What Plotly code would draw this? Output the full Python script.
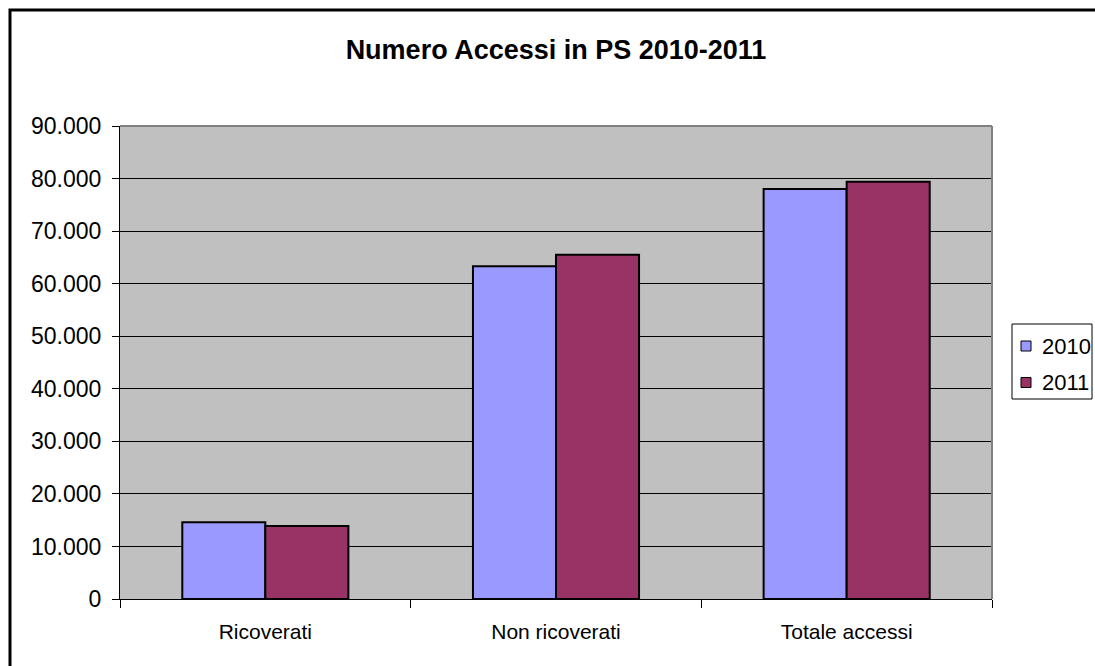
import plotly.graph_objects as go

categories = ["Ricoverati", "Non ricoverati", "Totale accessi"]
years = ["2010", "2011"]
accessi_2010 = [14600, 63300, 78000]
accessi_2011 = [13900, 65500, 79400]
y_ticks = [0, 10000, 20000, 30000, 40000, 50000, 60000, 70000, 80000, 90000]

FONT = "Liberation Sans, Arial, sans-serif"
colors = {"2010": "#9999FF", "2011": "#993366"}

fig = go.Figure()
for year, values in zip(years, [accessi_2010, accessi_2011]):
    fig.add_trace(go.Bar(
        x=categories, y=values, name=year,
        marker=dict(color=colors[year], line=dict(color="#000000", width=2)),
    ))

# left/top/right/bottom in pixels of the plotting area
L, R, T, B = 120, 992, 126, 599
W, H = 1095, 666
pw, ph = R - L, B - T

def px_x(v):
    return (v - L) / pw

def px_y(v):
    return (B - v) / ph

fig.update_layout(
    width=W, height=H,
    margin=dict(l=L, r=W - R, t=T, b=H - B, pad=0, autoexpand=False),
    paper_bgcolor="#FFFFFF",
    plot_bgcolor="#C0C0C0",
    barmode="group",
    bargap=1.5 / 3.5,
    bargroupgap=0,
    separators=",.",
    font=dict(family=FONT, size=21, color="#000000"),
    title=dict(
        text="<b>Numero Accessi in PS 2010-2011</b>",
        font=dict(family=FONT, size=27, color="#000000"),
        x=(L + R) / 2 / W, xanchor="center",
        y=1 - 50 / H, yanchor="middle",
    ),
    showlegend=False,
    xaxis=dict(
        type="category",
        showline=True, linecolor="#000000", linewidth=1,
        ticks="outside", tickson="boundaries", ticklen=8,
        tickcolor="#000000", tickwidth=1,
        showgrid=False,
        tickfont=dict(family=FONT, size=21, color="#000000"),
        ticklabelstandoff=14,
    ),
    yaxis=dict(
        range=[0, 90000],
        tickvals=y_ticks,
        tickformat=",d",
        showline=True, linecolor="#000000", linewidth=1,
        ticks="outside", ticklen=7, tickcolor="#000000", tickwidth=1,
        showgrid=True, gridcolor="#000000", gridwidth=1,
        zeroline=False,
        tickfont=dict(family=FONT, size=23, color="#000000"),
        ticklabelstandoff=6,
    ),
)

# grey frame on top and right edges of the plotting area
fig.add_shape(type="line", xref="paper", yref="paper", x0=0, x1=1, y0=1, y1=1,
              line=dict(color="#808080", width=2))
fig.add_shape(type="line", xref="paper", yref="paper", x0=1, x1=1, y0=0, y1=1,
              line=dict(color="#808080", width=2))

# compact legend box to the right of the plotting area
fig.add_shape(type="rect", xref="paper", yref="paper",
              x0=px_x(1012), x1=px_x(1092), y0=px_y(399), y1=px_y(324),
              line=dict(color="#000000", width=1), fillcolor="#FFFFFF")
for k, year in enumerate(years):
    cy = 346 + k * 36.5
    fig.add_shape(type="rect", xref="paper", yref="paper",
                  x0=px_x(1021), x1=px_x(1031), y0=px_y(cy + 5), y1=px_y(cy - 5),
                  line=dict(color="#000000", width=1), fillcolor=colors[year])
    fig.add_annotation(x=px_x(1040), y=px_y(cy), xref="paper", yref="paper",
                       text=year, showarrow=False, xanchor="left", yanchor="middle",
                       font=dict(family=FONT, size=22, color="#000000"))

# outer chart border
fig.add_shape(type="rect", xref="paper", yref="paper",
              x0=px_x(10), x1=px_x(1110), y0=px_y(680), y1=px_y(10),
              line=dict(color="#000000", width=3), layer="above")

fig.write_html("out.html")
